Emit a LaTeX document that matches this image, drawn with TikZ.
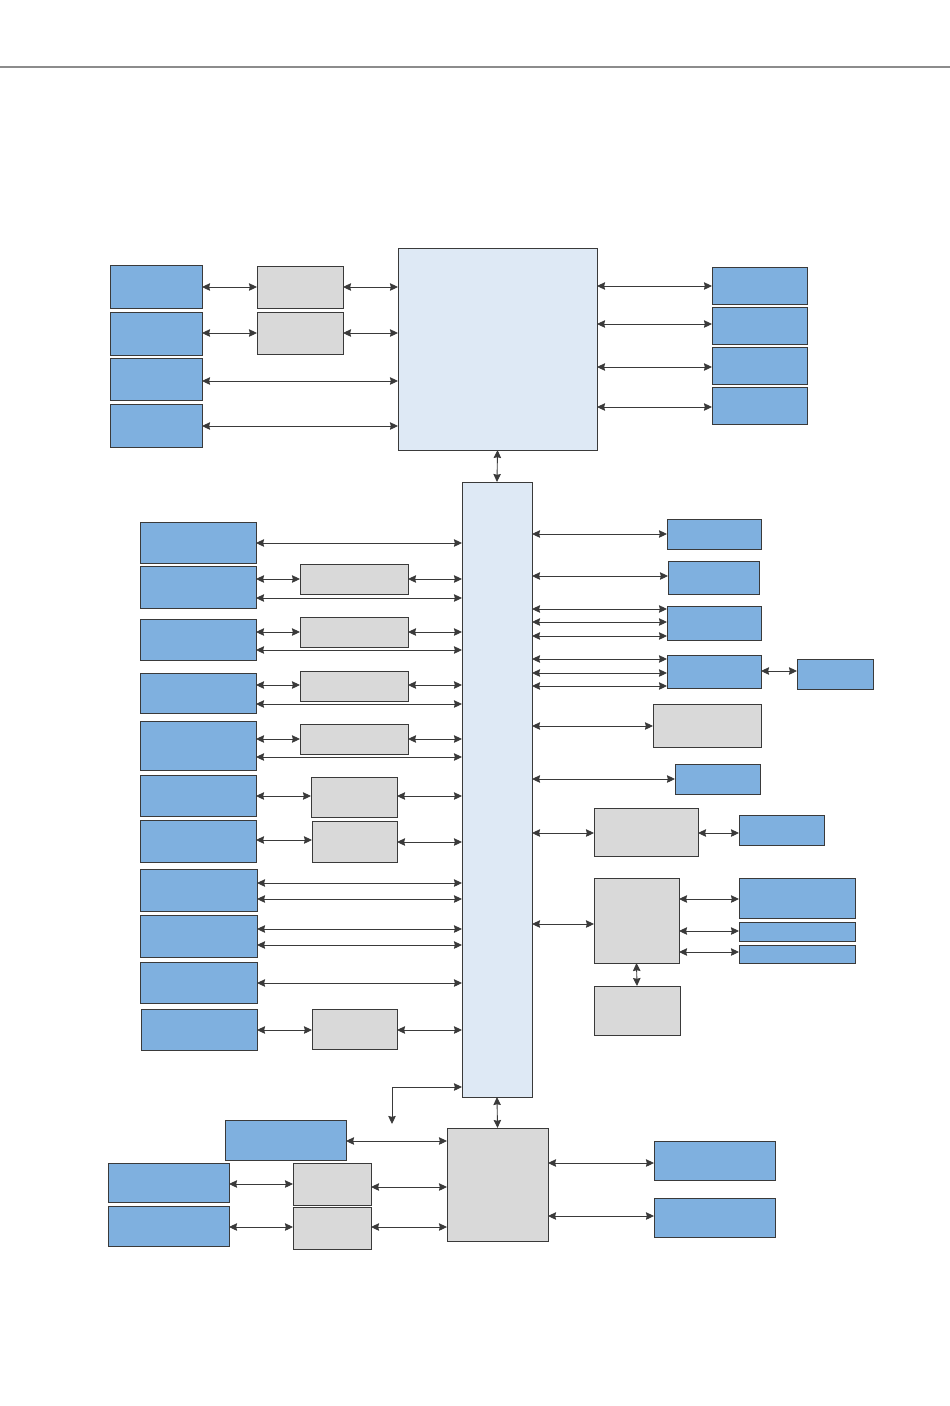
\documentclass[tikz,border=0pt]{standalone}
\usetikzlibrary{arrows.meta}

\definecolor{boxblue}{RGB}{127,176,223}
\definecolor{coreblue}{RGB}{222,233,245}
\definecolor{boxgrey}{RGB}{217,217,217}
\definecolor{edgegrey}{RGB}{58,58,58}
\definecolor{rulegrey}{RGB}{140,140,140}

\begin{document}
\begin{tikzpicture}[x=1pt,y=-1pt,>={Stealth[length=8pt,width=7.5pt,inset=0.8pt]},
    every node/.style={rectangle,draw=edgegrey,line width=0.9pt,inner sep=0pt,outer sep=0pt},
    blue node/.style={fill=boxblue},
    grey node/.style={fill=boxgrey},
    core node/.style={fill=coreblue},
    link/.style={<->,draw=edgegrey,line width=0.9pt}]
    \useasboundingbox (0,0) rectangle (950,1406);
    \draw[rulegrey,line width=1.6pt] (0,67) -- (950,67);

    % processor and hub
    \foreach \n/\xa/\ya/\xb/\yb in {cpu/398/248/597/450, hub/462/482/532/1097}
        \node[core node,minimum width={(\xb-\xa)*1pt},minimum height={(\yb-\ya)*1pt}] (\n) at ({(\xa+\xb)/2},{(\ya+\yb)/2}) {};

    % blue blocks
    \foreach \n/\xa/\ya/\xb/\yb in {L1/110/265/202/308, L2/110/312/202/355, L3/110/358/202/400, L4/110/404/202/447,
            R1/712/267/807/304, R2/712/307/807/344, R3/712/347/807/384, R4/712/387/807/424,
            M1/140/522/256/563, M2/140/566/256/608, M3/140/619/256/660, M4/140/673/256/713,
            M5/140/721/256/770, M6/140/775/256/816, M7/140/820/256/862, M8/140/869/257/911,
            M9/140/915/257/957, M10/140/962/257/1003, M11/141/1009/257/1050,
            Q1/667/519/761/549, Q2/668/561/759/594, Q3/667/606/761/640, Q4/667/655/761/688,
            Q5/797/659/873/689, Q6/675/764/760/794, Q7/739/815/824/845, Q8/739/878/855/918,
            Q9/739/922/855/941, Q10/739/945/855/963,
            Bt/225/1120/346/1160, Bl1/108/1163/229/1202, Bl2/108/1206/229/1246,
            Br1/654/1141/775/1180, Br2/654/1198/775/1237}
        \node[blue node,minimum width={(\xb-\xa)*1pt},minimum height={(\yb-\ya)*1pt}] (\n) at ({(\xa+\xb)/2},{(\ya+\yb)/2}) {};

    % grey blocks
    \foreach \n/\xa/\ya/\xb/\yb in {G1/257/266/343/308, G2/257/312/343/354,
            N1/300/564/408/594, N2/300/617/408/647, N3/300/671/408/701, N4/300/724/408/754,
            N5/311/777/397/817, N6/312/821/397/862, N7/312/1009/397/1049,
            S1/653/704/761/747, S2/594/808/698/856, S3/594/878/679/963, S4/594/986/680/1035,
            T1/293/1163/371/1205, T2/293/1207/371/1249, gb/447/1128/548/1241}
        \node[grey node,minimum width={(\xb-\xa)*1pt},minimum height={(\yb-\ya)*1pt}] (\n) at ({(\xa+\xb)/2},{(\ya+\yb)/2}) {};

    % horizontal links: left block east -- right block west at height y
    \foreach \a/\b/\y in {L1/G1/287, G1/cpu/287, L2/G2/333, G2/cpu/333, L3/cpu/381, L4/cpu/426,
            cpu/R1/286, cpu/R2/324, cpu/R3/367, cpu/R4/407,
            M1/hub/543, M2/N1/579, N1/hub/579, M2/hub/598, M3/N2/632, N2/hub/632, M3/hub/650,
            M4/N3/685, N3/hub/685, M4/hub/704, M5/N4/739, N4/hub/739, M5/hub/757,
            M6/N5/796, N5/hub/796, M7/N6/840, N6/hub/842, M8/hub/883, M8/hub/899,
            M9/hub/929, M9/hub/945, M10/hub/983, M11/N7/1030, N7/hub/1030,
            hub/Q1/534, hub/Q2/576, hub/Q3/609, hub/Q3/622, hub/Q3/636,
            hub/Q4/659, hub/Q4/673, hub/Q4/686, Q4/Q5/671, hub/S1/726, hub/Q6/779,
            hub/S2/833, S2/Q7/833, hub/S3/924, S3/Q8/899, S3/Q9/931, S3/Q10/952,
            Bt/gb/1141, Bl1/T1/1184, T1/gb/1187, Bl2/T2/1227, T2/gb/1227,
            gb/Br1/1163, gb/Br2/1216}
        \draw[link] (\a.east |- 0,\y) -- (\b.west |- 0,\y);

    % vertical links
    \draw[link] (cpu.south) -- (hub.north);
    \draw[link] (hub.south) -- (gb.north);
    \draw[link] (S3.south) -- (S4.north);
    \coordinate (drop) at (392,1124);
    \draw[link] (hub.west |- 0,1087) -| (drop);
\end{tikzpicture}
\end{document}
